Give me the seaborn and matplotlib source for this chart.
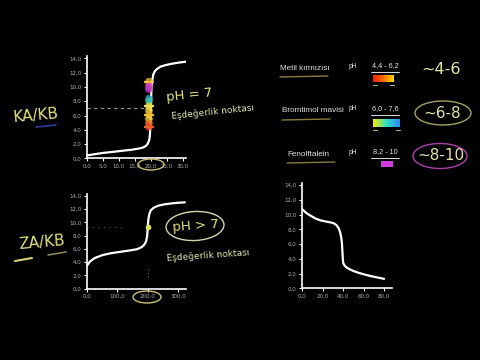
import numpy as np
import pandas as pd
import matplotlib
matplotlib.use("Agg")
import matplotlib.pyplot as plt
import seaborn as sns
from matplotlib.patches import Ellipse
from matplotlib.colors import LinearSegmentedColormap

# ---------------- data ----------------
ph_ticks = [0, 2, 4, 6, 8, 10, 12, 14]
ph_labels = ["0,0", "2,0", "4,0", "6,0", "8,0", "10,0", "12,0", "14,0"]

# strong acid / strong base (KA/KB)
sa_vol = [0, 2, 5, 8, 11, 14, 16, 17.5, 18.5, 19.1, 19.5, 19.7, 19.85, 20.0,
          20.15, 20.3, 20.5, 20.8, 21.3, 22.0, 23.0, 24.5, 26.5, 28.5, 31.0]
sa_ph = [0.4, 0.55, 0.75, 0.9, 1.05, 1.2, 1.35, 1.5, 1.75, 2.1, 2.6, 3.3, 4.6, 7.0,
         9.4, 10.5, 11.1, 11.8, 12.25, 12.55, 12.85, 13.05, 13.25, 13.4, 13.55]
sa_xticks = [0, 5, 10, 15, 20, 25, 30]
sa_xlabels = ["0,0", "5,0", "10,0", "15,0", "20,0", "25,0", "30,0"]
sa_eq_vol = 19.4
sa_eq_ph = 7.0
ind_mark_ph = [10.75, 10.1, 9.7, 8.35, 8.0, 7.3, 6.7, 6.1, 5.5, 4.9, 4.4]
ind_mark_col = ["#f2b632", "#e03cc8", "#c83cc8", "#2aa8c0", "#40c0a8", "#e8e040",
                "#f0d838", "#f0a828", "#f0d030", "#f07020", "#f04828"]

# weak acid / strong base (ZA/KB)
wa_vol = [0, 10, 25, 50, 80, 110, 140, 165, 180, 190, 195, 198, 200, 202, 205,
          210, 220, 235, 255, 280, 305, 322]
wa_ph = [3.5, 4.1, 4.6, 5.05, 5.35, 5.55, 5.75, 5.95, 6.25, 6.7, 7.2, 7.9, 9.2,
         10.4, 11.2, 11.8, 12.2, 12.5, 12.7, 12.85, 12.95, 13.0]
wa_xticks = [0, 100, 200, 300]
wa_xlabels = ["0,0", "100,0", "200,0", "300,0"]
wa_eq_vol = 201
wa_eq_ph = 9.25

# weak base / strong acid
wb_vol = [0, 4, 8, 13, 18, 23, 28, 31, 33.5, 35.5, 37, 38.2, 38.8, 39.2, 39.6,
          40.0, 41, 43, 46, 50, 55, 60, 67, 74, 80]
wb_ph = [10.7, 10.2, 9.85, 9.45, 9.2, 9.05, 8.92, 8.8, 8.55, 8.15, 7.6, 6.8, 6.0,
         5.0, 4.0, 3.45, 3.15, 2.85, 2.6, 2.35, 2.1, 1.9, 1.65, 1.45, 1.28]
wb_xticks = [0, 20, 40, 60, 80]
wb_xlabels = ["0,0", "20,0", "40,0", "60,0", "80,0"]

# indicators
ind_names = ["Metil kırmızısı", "Bromtimol mavisi", "Fenolftalein"]
ind_ranges = ["4,4 - 6,2", "6,0 - 7,6", "8,2 - 10"]
ind_approx = ["~4-6", "~6-8", "~8-10"]
ind_colors = [["#ff1a00", "#ff7000", "#ffd400"],
              ["#ffe400", "#30e0c0", "#2a8cff"],
              ["#d03ce0", "#d03ce0"]]

# ---------------- figure ----------------
sns.set_theme(style="dark")
plt.rcParams["font.family"] = ["DejaVu Sans"]
fig = plt.figure(figsize=(4.8, 3.6), dpi=100, facecolor="black")


def px_axes(left, base, w, h):
    return fig.add_axes([left / 480, (360 - base) / 360, w / 480, h / 360])


def style(ax, xticks, xlabels, xlim):
    ax.set_facecolor("none")
    for s in ["top", "right"]:
        ax.spines[s].set_visible(False)
    for s in ["left", "bottom"]:
        ax.spines[s].set_visible(True)
        ax.spines[s].set_color("white")
        ax.spines[s].set_linewidth(1.2)
    ax.set_xticks(xticks)
    ax.set_xticklabels(xlabels)
    ax.set_yticks(ph_ticks)
    ax.set_yticklabels(ph_labels)
    ax.tick_params(axis="both", colors="white", labelcolor="#b0b0b0", labelsize=4,
                   length=2.5, width=0.8, pad=1.5, direction="out",
                   bottom=True, left=True)
    ax.set_xlim(xlim)
    ax.set_ylim(0, 14.3)
    ax.grid(False)
    ax.set_xlabel("")
    ax.set_ylabel("")


# top-left
ax1 = px_axes(87, 158.3, 99, 102)
sns.lineplot(x=sa_vol, y=sa_ph, ax=ax1, color="white", linewidth=1.6,
             estimator=None, sort=False)
ax1.plot([0, sa_eq_vol], [sa_eq_ph, sa_eq_ph], color="#9a9a9a", lw=0.8,
         ls=(0, (3, 3)), zorder=1)
ax1.scatter([sa_eq_vol] * len(ind_mark_ph), ind_mark_ph, c=ind_mark_col, s=30,
            marker="o", alpha=0.8, linewidths=0, zorder=3)
ax1.scatter([sa_eq_vol] * 4, [ind_mark_ph[0], ind_mark_ph[5], ind_mark_ph[7], ind_mark_ph[10]],
            c=["#f5c040", "#f0e060", "#f0c040", "#f06030"], s=55, marker="_",
            linewidths=1.4, zorder=4)
style(ax1, sa_xticks, sa_xlabels, (0, 31))

# bottom-left
ax2 = px_axes(87, 288.7, 99, 95)
sns.lineplot(x=wa_vol, y=wa_ph, ax=ax2, color="white", linewidth=1.6,
             estimator=None, sort=False)
ax2.plot([0, 120], [wa_eq_ph, wa_eq_ph], color="#555555", lw=0.8,
         ls=(0, (1, 4)), zorder=1)
ax2.plot([wa_eq_vol, wa_eq_vol], [1.8, 3.2], color="#6a6a50", lw=0.8,
         ls=(0, (1, 2)), zorder=1)
ax2.scatter([wa_eq_vol], [wa_eq_ph], c="#e6e060", s=16, zorder=4, linewidths=0)
style(ax2, wa_xticks, wa_xlabels, (0, 326))

# right
ax3 = px_axes(302.3, 288.3, 90, 105.5)
sns.lineplot(x=wb_vol, y=wb_ph, ax=ax3, color="white", linewidth=1.6,
             estimator=None, sort=False)
style(ax3, wb_xticks, wb_xlabels, (0, 88))

# ---------------- overlay (handwriting, labels) ----------------
ov = fig.add_axes([0, 0, 1, 1])
ov.set_facecolor("none")
ov.patch.set_alpha(0)
ov.axis("off")

hand = "#e6e27a"
hand2 = "#e4e4a8"

ov.text(36, 116, "KA/KB", color=hand, fontsize=11, ha="center", va="center",
        rotation=5)
ov.plot([36, 56], [127, 125], color="#2a3a9a", lw=1.2)
ov.text(42, 243, "ZA/KB", color=hand, fontsize=11, ha="center", va="center",
        rotation=5)
ov.plot([15, 32], [261, 258], color="#d8d070", lw=1.5)
ov.plot([48, 66], [255, 252], color="#8a8650", lw=1.2)

ov.text(189, 95, "pH = 7", color=hand, fontsize=9.5, ha="center", va="center",
        rotation=6)
ov.text(171, 112, "Eşdeğerlik noktası", color=hand2, fontsize=6.5, ha="left",
        va="center", rotation=6)
ov.text(196, 226, "pH > 7", color=hand, fontsize=9.5, ha="center", va="center",
        rotation=4)
ov.add_patch(Ellipse((195, 226), 58, 29, angle=-3, fill=False,
                     edgecolor="#d8d6a8", lw=1.0))
ov.text(166, 256, "Eşdeğerlik noktası", color=hand2, fontsize=6.5, ha="left",
        va="center", rotation=4)

ov.add_patch(Ellipse((151, 164.5), 26, 11, fill=False, edgecolor="#c8c070", lw=1.0))
ov.add_patch(Ellipse((147, 297), 28, 12, fill=False, edgecolor="#c8c070", lw=1.0))

rows_y = [68, 111, 154]
name_x = [280, 282, 287]
bars = [(373, 394, 75, 82), (373, 400, 119, 127), (381, 393, 161, 167)]
for i, name in enumerate(ind_names):
    y = rows_y[i]
    ov.text(name_x[i], y, name, color="#e0e0e0", fontsize=5.9, ha="left",
            va="center", family="Liberation Sans")
    ov.plot([name_x[i], name_x[i] + 48], [y + 9, y + 8], color="#8a7a40", lw=1.0)
    ov.text(353, y - 2, "pH", color="#e0e0e0", fontsize=4.8, ha="center",
            va="center", family="Liberation Sans")
    ov.text(385, y - 2, ind_ranges[i], color="#e8e8e8", fontsize=5.2, ha="center",
            va="center", family="Liberation Sans")
    ov.plot([371, 399], [y + 4, y + 4], color="#dddddd", lw=0.7)
    x0, x1, y0, y1 = bars[i]
    cmap = LinearSegmentedColormap.from_list("g%d" % i, ind_colors[i])
    ov.imshow(np.linspace(0, 1, 64)[None, :], cmap=cmap, aspect="auto",
              extent=[x0, x1, y1, y0], zorder=3, interpolation="bilinear")
    if i < 2:
        ov.plot([x0, x0 + 4], [y1 + 3, y1 + 3], color="#a0c060", lw=0.8)
        ov.plot([x1 - 4, x1], [y1 + 3, y1 + 3], color="#a0c060", lw=0.8)

ov.text(441, 70, ind_approx[0], color=hand2, fontsize=11.5, ha="center", va="center")
ov.text(442, 113, ind_approx[1], color=hand2, fontsize=11, ha="center", va="center")
ov.add_patch(Ellipse((443, 113), 56, 24, fill=False, edgecolor="#a8a060", lw=1.0))
ov.text(441, 156, ind_approx[2], color=hand2, fontsize=11, ha="center", va="center")
ov.add_patch(Ellipse((440, 156), 54, 25, fill=False, edgecolor="#b040b0", lw=1.0))

ov.set_xlim(0, 480)
ov.set_ylim(360, 0)

fig.savefig("out.png", dpi=100, facecolor="black")
